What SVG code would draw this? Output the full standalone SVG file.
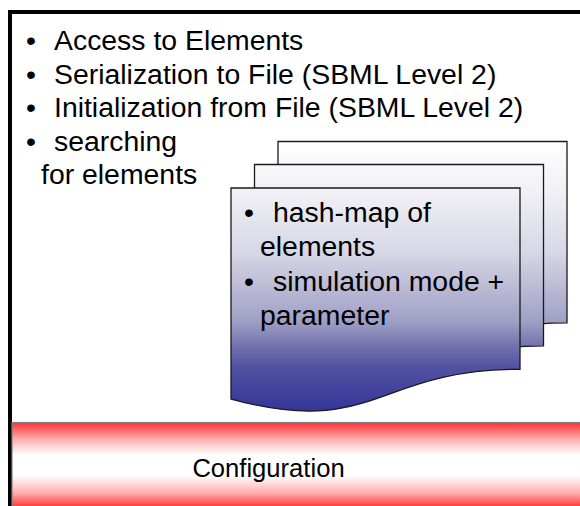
<svg xmlns="http://www.w3.org/2000/svg" width="580" height="506" viewBox="0 0 580 506">
  <defs>
    <!-- shared fill for the stacked document sheets (absolute page coordinates) -->
    <linearGradient id="docFill" gradientUnits="userSpaceOnUse" x1="0" y1="142" x2="0" y2="413">
      <stop offset="0" stop-color="#ffffff"/>
      <stop offset="0.17" stop-color="#f2f2f6"/>
      <stop offset="0.4" stop-color="#d8d8e6"/>
      <stop offset="0.66" stop-color="#a0a0c6"/>
      <stop offset="0.75" stop-color="#7474ae"/>
      <stop offset="0.83" stop-color="#5252a2"/>
      <stop offset="1" stop-color="#333399"/>
    </linearGradient>
    <!-- red-white-red band for the bottom layer -->
    <linearGradient id="barFill" gradientUnits="userSpaceOnUse" x1="0" y1="422.5" x2="0" y2="508">
      <stop offset="0" stop-color="#ff3030"/>
      <stop offset="0.2" stop-color="#ffb0b0"/>
      <stop offset="0.38" stop-color="#ffffff"/>
      <stop offset="0.62" stop-color="#ffffff"/>
      <stop offset="0.82" stop-color="#ffb0b0"/>
      <stop offset="1" stop-color="#ff3030"/>
    </linearGradient>
  </defs>
  <style>
    .txt { font-family: "Liberation Sans", Arial, sans-serif; font-size: 28.4px; fill: #000; }
    .cfg { font-family: "Liberation Sans", Arial, sans-serif; font-size: 25.6px; fill: #000; }
    .doc { fill: url(#docFill); stroke: #1a1a1a; stroke-width: 1.3; }
  </style>

  <rect x="0" y="0" width="580" height="506" fill="#ffffff"/>

  <!-- outer frame (only left and top edges fall inside the view) -->
  <g id="frame">
    <rect x="10" y="12" width="640" height="600" fill="#ffffff" stroke="#000" stroke-width="4"/>
  </g>

  <!-- feature list -->
  <g id="features">
    <text class="txt" x="26" y="50">•</text>
    <text class="txt" x="54" y="50">Access to Elements</text>
    <text class="txt" x="26" y="84">•</text>
    <text class="txt" x="54" y="84">Serialization to File (SBML Level 2)</text>
    <text class="txt" x="26" y="117">•</text>
    <text class="txt" x="54" y="117">Initialization from File (SBML Level 2)</text>
    <text class="txt" x="26" y="151">•</text>
    <text class="txt" x="54" y="151">searching</text>
    <text class="txt" x="41" y="184">for elements</text>
  </g>

  <!-- stacked data sheets (flowchart document outline, 289 x 226) -->
  <g id="sheet-back">
    <path class="doc" d="M278,141.5 H567 V322.8 C422.5,322.8 422.5,391.8 278,352.6 Z"/>
  </g>
  <g id="sheet-middle">
    <path class="doc" d="M254.5,164.5 H543.5 V345.8 C399,345.8 399,414.8 254.5,375.6 Z"/>
  </g>
  <g id="sheet-front">
    <path class="doc" d="M231,188 H520 V369.3 C375.5,369.3 375.5,438.3 231,399.1 Z"/>
    <text class="txt" x="244" y="222">•</text>
    <text class="txt" x="273" y="222">hash-map of</text>
    <text class="txt" x="260" y="256">elements</text>
    <text class="txt" x="244" y="291">•</text>
    <text class="txt" x="273" y="291">simulation mode +</text>
    <text class="txt" x="260" y="325">parameter</text>
  </g>

  <!-- configuration layer -->
  <g id="configuration">
    <rect x="12" y="422.5" width="580" height="90" fill="url(#barFill)" stroke="#808080" stroke-width="1.2"/>
    <text class="cfg" x="268.5" y="477" text-anchor="middle">Configuration</text>
  </g>
</svg>
